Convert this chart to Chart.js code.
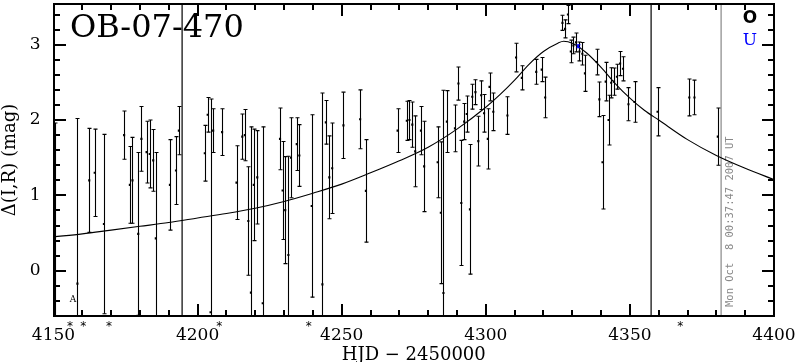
<!DOCTYPE html>
<html>
<head>
<meta charset="utf-8">
<script src="https://cdn.jsdelivr.net/npm/chart.js@4"></script>
<style>
  html, body { margin: 0; padding: 0; background: #fff; }
  canvas { display: block; }
</style>
</head>
<body>
<canvas id="lightCurve" width="796" height="362"></canvas>
<script>
// observed points (HJD - 2450000, delta mag, error)
const days = [4150.5, 4158.3, 4162.4, 4164.3, 4167.5, 4174.5, 4176.5, 4177.4, 4179.4, 4180.5,
  4182.3, 4183.4, 4184.6, 4185.5, 4190.4, 4192.5, 4193.5, 4202.5, 4203.5, 4204.5,
  4205.4, 4208.5, 4213.5, 4215.5, 4216.4, 4217.6, 4218.5, 4219.5, 4220.7, 4222.6,
  4228.6, 4229.5, 4230.4, 4231.5, 4232.4, 4234.4, 4235.3, 4239.6, 4243.3, 4244.5,
  4245.7, 4246.7, 4250.6, 4256.4, 4258.4, 4269.4, 4272.6, 4273.5, 4274.5, 4275.5,
  4277.5, 4278.6, 4283.3, 4284.4, 4285.3, 4286.5, 4289.3, 4290.5, 4291.5, 4292.5,
  4293.4, 4294.5, 4295.3, 4296.4, 4297.4, 4298.4, 4299.4, 4300.7, 4301.3, 4302.6,
  4307.5, 4310.5, 4312.5, 4317.5, 4319.4, 4320.6, 4326.6, 4327.5, 4328.5, 4329.5,
  4330.4, 4331.3, 4332.5, 4333.5, 4334.4, 4338.5, 4339.4, 4340.5, 4341.6, 4342.6,
  4343.5, 4344.5, 4345.5, 4346.6, 4347.6, 4349.5, 4351.6, 4359.6, 4370.6, 4372.4,
  4380.5];
const dmag = [0.45, -0.17, 1.20, 1.30, 0.62, 1.80, 1.14, 1.20, 0.49, 1.75,
  1.575, 1.55, 1.465, 0.43, 1.14, 1.33, 1.86, 1.56, 2.07, -0.55,
  1.86, 1.84, 1.17, 1.78, 1.80, 0.66, -0.29, 1.14, 1.24, -0.43,
  1.75, 1.065, 0.805, 0.21, 1.50, 1.68, 1.53, 0.86, -0.18, 1.97,
  1.24, 1.36, 1.93, 2.01, 1.06, 1.86, 1.99, 2.00, 1.94, 1.585,
  1.86, 1.385, 1.44, 0.77, -0.295, 1.98, 1.89, 2.485, 0.90, 1.98,
  2.08, 0.815, 2.31, 2.37, 1.72, 2.33, 2.09, 1.75, 2.44, 2.11,
  2.06, 2.83, 2.56, 2.64, 2.67, 2.30, 3.29, 3.21, 3.40, 2.91,
  2.99, 3.03, 2.91, 2.88, 2.62, 2.77, 2.275, 1.44, 2.51, 2.00,
  2.495, 2.51, 2.575, 2.75, 2.68, 2.21, 2.24, 2.11, 2.30, 2.30,
  1.78];
const errs = [1.51, 2.19, 0.69, 0.58, 1.19, 0.32, 0.51, 0.57, 1.08, 0.43,
  0.41, 0.45, 0.41, 1.14, 0.60, 0.45, 0.32, 0.37, 0.23, 2.83,
  0.29, 0.31, 0.49, 0.30, 0.34, 0.72, 2.20, 0.74, 0.62, 2.34,
  0.41, 0.65, 0.71, 1.31, 0.53, 0.35, 0.41, 1.21, 2.54, 0.29,
  0.55, 0.60, 0.44, 0.39, 0.68, 0.29, 0.26, 0.26, 0.30, 0.47,
  0.32, 0.60, 0.47, 0.94, 2.69, 0.41, 0.31, 0.22, 0.83, 0.24,
  0.24, 0.86, 0.165, 0.165, 0.33, 0.19, 0.25, 0.40, 0.185, 0.25,
  0.25, 0.19, 0.16, 0.165, 0.16, 0.27, 0.10, 0.12, 0.12, 0.15,
  0.11, 0.125, 0.125, 0.15, 0.24, 0.17, 0.23, 0.62, 0.255, 0.33,
  0.20, 0.18, 0.165, 0.16, 0.16, 0.22, 0.27, 0.32, 0.245, 0.23,
  0.38];

// the single "U" point
const uDays = [4331.9];
const uMags = [2.98];
const uErrs = [0.02];

// model curve
const modelDays = [4150, 4160, 4170, 4180, 4190, 4200, 4210, 4220, 4230, 4240, 4250, 4260,
  4270, 4280, 4290, 4300, 4305, 4310, 4315, 4320, 4325, 4327, 4330, 4335, 4340, 4345,
  4350, 4355, 4360, 4370, 4380, 4390, 4400];
const modelMags = [0.45, 0.49, 0.54, 0.59, 0.64, 0.70, 0.76, 0.83, 0.92, 1.03, 1.15, 1.30,
  1.46, 1.64, 1.88, 2.17, 2.34, 2.53, 2.74, 2.91, 3.02, 3.045, 3.02, 2.89, 2.70, 2.48,
  2.29, 2.13, 2.00, 1.74, 1.53, 1.36, 1.21];

const xTicks = [4150, 4200, 4250, 4300, 4350, 4400];
const yTicks = [0, 1, 2, 3];
const xMinorStep = 10;
const yMinorStep = 0.2;
const markerDays = [4194.6, 4357.3];
const plotTimeDay = 4381.6;
const flagDays = [4155.7, 4160.3, 4169.3, 4207.5, 4238.6, 4367.5];

const SERIF = '"DejaVu Serif", serif';

function pts(xs, ys) {
  return xs.map((d, i) => ({ x: d, y: ys[i] }));
}

function seg(ctx, x0, y0, x1, y1) {
  ctx.beginPath();
  ctx.moveTo(x0, y0);
  ctx.lineTo(x1, y1);
  ctx.stroke();
}

// keep the plot box where the reference has it
function noLabelPadding(s) {
  s.paddingLeft = 0; s.paddingRight = 0; s.paddingTop = 0; s.paddingBottom = 0;
}

const errorBars = {
  id: 'errorBars',
  afterDatasetsDraw(chart) {
    const { ctx, chartArea: a, scales: { x, y } } = chart;
    ctx.save();
    ctx.beginPath();
    ctx.rect(a.left, a.top, a.right - a.left, a.bottom - a.top);
    ctx.clip();
    chart.data.datasets.forEach(ds => {
      if (!ds.errors) return;
      ctx.strokeStyle = ds.borderColor;
      ctx.lineWidth = 1.1;
      ds.data.forEach((p, i) => {
        const e = ds.errors[i];
        const px = Math.round(x.getPixelForValue(p.x)) + 0.5;
        const hi = y.getPixelForValue(p.y + e);
        const lo = y.getPixelForValue(p.y - e);
        seg(ctx, px, hi, px, lo);
        seg(ctx, px - 2, hi, px + 2, hi);
        seg(ctx, px - 2, lo, px + 2, lo);
      });
    });
    ctx.restore();
  }
};

const decorations = {
  id: 'decorations',
  beforeDatasetsDraw(chart) {
    const { ctx, chartArea: a, scales: { x } } = chart;
    ctx.save();
    ctx.fillStyle = '#000';
    markerDays.forEach(d => {
      const px = Math.round(x.getPixelForValue(d));
      ctx.fillRect(px - 0.5, a.top, 1.2, a.bottom - a.top);
    });
    const gx = Math.round(x.getPixelForValue(plotTimeDay));
    ctx.fillStyle = '#888';
    ctx.fillRect(gx - 0.5, a.top, 1.2, a.bottom - a.top);
    // time stamp, reading upward
    ctx.translate(gx + 12, a.bottom - 9);
    ctx.rotate(-Math.PI / 2);
    ctx.font = '10.5px "DejaVu Sans Mono", monospace';
    ctx.textAlign = 'left';
    ctx.textBaseline = 'alphabetic';
    ctx.fillText('Mon Oct  8 00:37:47 2007 UT', 0, 0);
    ctx.restore();
  },
  afterDraw(chart) {
    const { ctx, chartArea: a, scales: { x, y } } = chart;
    const L = Math.round(a.left), R = Math.round(a.right);
    const T = Math.round(a.top), B = Math.round(a.bottom);
    ctx.save();
    ctx.fillStyle = '#000';
    // inward ticks on all four sides, as filled bars
    const nx = Math.round((x.max - x.min) / xMinorStep);
    for (let i = 0; i <= nx; i++) {
      const v = x.min + i * xMinorStep;
      const px = Math.round(x.getPixelForValue(v));
      const len = xTicks.indexOf(v) >= 0 ? 12 : 6;
      ctx.fillRect(px - 1, B - len, 2, len);
      ctx.fillRect(px - 1, T, 2, len);
    }
    for (let k = -3; k <= 17; k++) {
      const v = Math.round(k * yMinorStep * 10) / 10;
      const py = Math.round(y.getPixelForValue(v));
      const len = yTicks.indexOf(v) >= 0 ? 12 : 6;
      ctx.fillRect(L, py - 1, len, 2);
      ctx.fillRect(R - len, py - 1, len, 2);
    }
    // frame
    ctx.fillRect(L - 1, T - 1, R - L + 2, 2);
    ctx.fillRect(L - 1, B - 1, R - L + 2, 2);
    ctx.fillRect(L - 1, T - 1, 2, B - T + 2);
    ctx.fillRect(R - 1, T - 1, 2, B - T + 2);

    // title
    ctx.font = '32px ' + SERIF;
    ctx.textAlign = 'left';
    ctx.textBaseline = 'alphabetic';
    ctx.fillText('OB-07-470', 70, 37);

    // legend letters
    ctx.textAlign = 'center';
    ctx.font = 'bold 17px "DejaVu Sans", sans-serif';
    ctx.fillText('O', 750, 23);
    ctx.fillStyle = '#0000ff';
    ctx.font = '17px ' + SERIF;
    ctx.fillText('U', 750, 45);

    // small "A" marker
    ctx.fillStyle = '#000';
    ctx.font = '9px ' + SERIF;
    ctx.fillText('A', x.getPixelForValue(4156.8), y.getPixelForValue(-0.41));

    // flags under the axis
    ctx.font = '12px "DejaVu Sans", sans-serif';
    flagDays.forEach(d => ctx.fillText('*', x.getPixelForValue(d), B + 14));
    ctx.restore();
  }
};

new Chart(document.getElementById('lightCurve'), {
  type: 'scatter',
  data: {
    datasets: [
      {
        type: 'line',
        data: pts(modelDays, modelMags),
        borderColor: '#000',
        borderWidth: 1.1,
        pointRadius: 0,
        cubicInterpolationMode: 'monotone',
        fill: false,
        order: 3
      },
      {
        data: pts(days, dmag),
        errors: errs,
        borderColor: '#000',
        backgroundColor: '#000',
        pointStyle: 'rect',
        pointRadius: 1.5,
        borderWidth: 0,
        order: 2
      },
      {
        data: pts(uDays, uMags),
        errors: uErrs,
        borderColor: '#0000ff',
        backgroundColor: '#0000ff',
        pointStyle: 'rect',
        pointRadius: 1.5,
        borderWidth: 0,
        order: 1
      }
    ]
  },
  options: {
    responsive: false,
    animation: false,
    devicePixelRatio: 1,
    layout: { padding: { top: 0, right: 22, left: 0, bottom: 0 } },
    plugins: { legend: { display: false }, tooltip: { enabled: false } },
    scales: {
      x: {
        type: 'linear',
        min: 4150,
        max: 4400,
        afterBuildTicks: s => { s.ticks = xTicks.map(v => ({ value: v })); },
        afterFit: s => { s.height = 46; noLabelPadding(s); },
        grid: { display: false, drawTicks: false },
        border: { display: false },
        ticks: {
          color: '#000',
          padding: 9,
          font: { family: SERIF, size: 17 },
          callback: v => String(v)
        },
        title: {
          display: true,
          text: 'HJD − 2450000',
          color: '#000',
          padding: 0,
          font: { family: SERIF, size: 18, lineHeight: 0.7 }
        }
      },
      y: {
        type: 'linear',
        min: -0.6,
        max: 3.54,
        afterBuildTicks: s => { s.ticks = yTicks.map(v => ({ value: v })); },
        afterFit: s => { s.width = 53.5; noLabelPadding(s); },
        grid: { display: false, drawTicks: false },
        border: { display: false },
        ticks: {
          color: '#000',
          padding: 13,
          font: { family: SERIF, size: 17 },
          callback: v => String(v)
        },
        title: {
          display: true,
          text: 'Δ(I,R) (mag)',
          color: '#000',
          padding: 0,
          font: { family: SERIF, size: 18, lineHeight: 1.2 }
        }
      }
    }
  },
  plugins: [decorations, errorBars]
});
</script>
</body>
</html>
